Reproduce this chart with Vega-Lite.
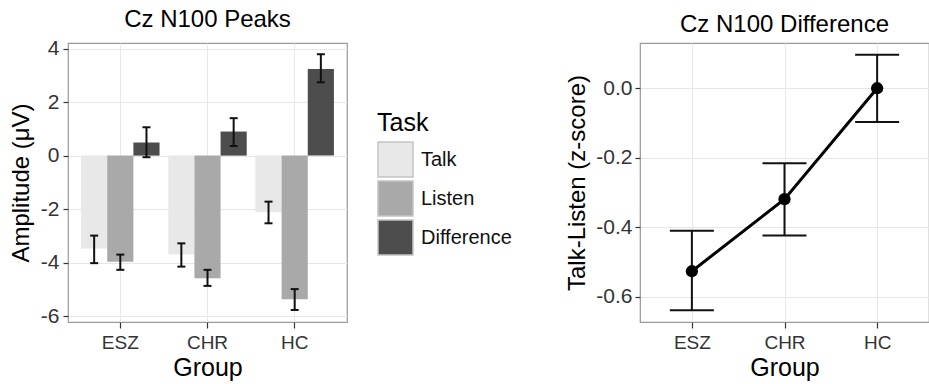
{
  "$schema": "https://vega.github.io/schema/vega-lite/v6.json",
  "padding": {"left": 8, "top": 7, "right": 0, "bottom": 0},
  "background": "white",
  "spacing": 217,
  "config": {
    "font": "Liberation Sans",
    "view": {"stroke": "#9a9a9a", "strokeWidth": 1.2},
    "axis": {"domain": false, "tickColor": "#333333", "labelColor": "#333333", "titleColor": "#000000", "titleFontWeight": "normal", "gridColor": "#e8e8e8", "gridWidth": 1, "labelFontSize": 21, "titleFontSize": 24, "tickSize": 5, "tickWidth": 1.2},
    "title": {"fontWeight": "normal", "fontSize": 24, "color": "#000000", "offset": 6}
  },
  "hconcat": [
    {
      "width": 279,
      "height": 279,
      "title": "Cz N100 Peaks",
      "data": {"values": [
        {"Group": "ESZ", "Task": "Talk", "Amplitude": -3.47, "lo": -4.02, "hi": -2.99},
        {"Group": "ESZ", "Task": "Listen", "Amplitude": -3.97, "lo": -4.27, "hi": -3.70},
        {"Group": "ESZ", "Task": "Difference", "Amplitude": 0.49, "lo": -0.06, "hi": 1.06},
        {"Group": "CHR", "Task": "Talk", "Amplitude": -3.69, "lo": -4.15, "hi": -3.28},
        {"Group": "CHR", "Task": "Listen", "Amplitude": -4.58, "lo": -4.87, "hi": -4.27},
        {"Group": "CHR", "Task": "Difference", "Amplitude": 0.90, "lo": 0.36, "hi": 1.40},
        {"Group": "HC", "Task": "Talk", "Amplitude": -2.12, "lo": -2.53, "hi": -1.72},
        {"Group": "HC", "Task": "Listen", "Amplitude": -5.37, "lo": -5.77, "hi": -4.99},
        {"Group": "HC", "Task": "Difference", "Amplitude": 3.24, "lo": 2.74, "hi": 3.79}
      ]},
      "encoding": {
        "x": {"field": "Group", "type": "nominal", "sort": ["ESZ", "CHR", "HC"],
          "scale": {"paddingInner": 0.1, "paddingOuter": 0.15},
          "axis": {"labelAngle": 0, "title": "Group", "grid": true, "labelFontSize": 19, "tickSize": 6, "labelPadding": 5, "titlePadding": 3, "titleFontSize": 25}},
        "xOffset": {"field": "Task", "type": "nominal", "sort": ["Talk", "Listen", "Difference"], "scale": {"paddingInner": 0, "paddingOuter": 0}}
      },
      "layer": [
        {
          "mark": {"type": "bar"},
          "encoding": {
            "y": {"field": "Amplitude", "type": "quantitative", "title": "Amplitude (μV)",
              "scale": {"domain": [-6.22, 4.21], "nice": false},
              "axis": {
                "values": [-6, -5, -4, -3, -2, -1, 0, 1, 2, 3, 4],
                "labelExpr": "datum.value % 2 === 0 ? toString(datum.value) : ''",
                "tickOpacity": {"condition": {"test": "datum.value % 2 !== 0", "value": 0}, "value": 1},
                "gridColor": {"condition": {"test": "datum.value % 2 !== 0", "value": "#f4f4f4"}, "value": "#e6e6e6"},
                "labelPadding": 4, "titlePadding": 7
              }},
            "color": {"field": "Task", "type": "nominal",
              "scale": {"domain": ["Talk", "Listen", "Difference"], "range": ["#e8e8e8", "#a9a9a9", "#4d4d4d"]},
              "legend": {"orient": "none", "legendX": 309, "legendY": 68, "title": "Task", "titleFontSize": 25, "titleFontWeight": "normal", "titleColor": "#000000", "titlePadding": 5, "labelFontSize": 20, "labelColor": "#111111", "symbolType": "square", "symbolSize": 1225, "symbolStrokeColor": "#c4c4c4", "symbolStrokeWidth": 1.5, "symbolOpacity": 1, "labelOffset": 7, "rowPadding": -6}}
          }
        },
        {
          "mark": {"type": "rule", "strokeWidth": 2, "color": "#111111"},
          "encoding": {"y": {"field": "lo", "type": "quantitative", "title": "Amplitude (μV)"}, "y2": {"field": "hi"}}
        },
        {
          "mark": {"type": "tick", "orient": "horizontal", "size": 8, "thickness": 2, "color": "#111111", "opacity": 1},
          "encoding": {"y": {"field": "lo", "type": "quantitative", "title": "Amplitude (μV)"}}
        },
        {
          "mark": {"type": "tick", "orient": "horizontal", "size": 8, "thickness": 2, "color": "#111111", "opacity": 1},
          "encoding": {"y": {"field": "hi", "type": "quantitative", "title": "Amplitude (μV)"}}
        }
      ]
    },
    {
      "width": 289,
      "height": 279,
      "title": "Cz N100 Difference",
      "data": {"values": [
        {"Group": "ESZ", "z": -0.526, "lo": -0.638, "hi": -0.41},
        {"Group": "CHR", "z": -0.319, "lo": -0.423, "hi": -0.216},
        {"Group": "HC", "z": 0.0, "lo": -0.097, "hi": 0.096}
      ]},
      "encoding": {
        "x": {"field": "Group", "type": "ordinal", "sort": ["ESZ", "CHR", "HC"],
          "scale": {"type": "point", "padding": 0.56},
          "axis": {"labelAngle": 0, "title": "Group", "grid": true, "labelFontSize": 19, "tickSize": 6, "labelPadding": 5, "titlePadding": 3, "titleFontSize": 25}}
      },
      "layer": [
        {
          "mark": {"type": "rule", "strokeWidth": 2, "color": "#111111"},
          "encoding": {
            "y": {"field": "lo", "type": "quantitative", "title": "Talk-Listen (z-score)",
              "scale": {"domain": [-0.672, 0.13], "nice": false, "zero": false},
              "axis": {
                "values": [-0.6, -0.5, -0.4, -0.3, -0.2, -0.1, 0, 0.1],
                "labelExpr": "indexof([-0.6, -0.4, -0.2, 0], datum.value) >= 0 ? replace(format(datum.value, '.1f'), '−', '-') : ''",
                "tickOpacity": {"condition": {"test": "indexof([-0.6, -0.4, -0.2, 0], datum.value) < 0", "value": 0}, "value": 1},
                "gridColor": {"condition": {"test": "indexof([-0.6, -0.4, -0.2, 0], datum.value) < 0", "value": "#f4f4f4"}, "value": "#e6e6e6"},
                "labelPadding": 3, "titlePadding": 6
              }},
            "y2": {"field": "hi"}
          }
        },
        {
          "mark": {"type": "tick", "orient": "horizontal", "size": 44, "thickness": 2, "color": "#111111", "opacity": 1},
          "encoding": {"y": {"field": "lo", "type": "quantitative", "title": "Talk-Listen (z-score)"}}
        },
        {
          "mark": {"type": "tick", "orient": "horizontal", "size": 44, "thickness": 2, "color": "#111111", "opacity": 1},
          "encoding": {"y": {"field": "hi", "type": "quantitative", "title": "Talk-Listen (z-score)"}}
        },
        {
          "mark": {"type": "line", "color": "#000000", "strokeWidth": 3},
          "encoding": {"y": {"field": "z", "type": "quantitative", "title": "Talk-Listen (z-score)"}, "order": {"value": null}}
        },
        {
          "mark": {"type": "point", "filled": true, "color": "#000000", "size": 150, "opacity": 1},
          "encoding": {"y": {"field": "z", "type": "quantitative", "title": "Talk-Listen (z-score)"}}
        }
      ]
    }
  ]
}
